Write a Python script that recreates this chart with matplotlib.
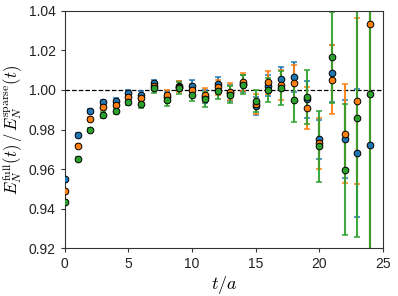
import matplotlib
matplotlib.use("Agg")
import matplotlib.pyplot as plt
import numpy as np

plt.rcParams["font.family"] = ["Liberation Sans", "DejaVu Sans"]
plt.rcParams["mathtext.fontset"] = "cm"

t = np.arange(25)

blue = [0.9549, 0.9772, 0.9894, 0.9939, 0.9946, 0.9983, 0.9976, 1.0033, 0.9963, 1.0020,
        1.0020, 0.9967, 1.0030, 0.9985, 1.0032, 0.9920, 1.0022, 1.0058, 1.0067, 0.9953,
        0.9750, 1.0085, 0.9752, 0.9680, 0.9720]
orange = [0.9490, 0.9718, 0.9853, 0.9912, 0.9926, 0.9965, 0.9958, 1.0020, 0.9975, 1.0017,
          1.0000, 0.9975, 1.0013, 0.9991, 1.0040, 0.9928, 1.0038, 1.0025, 1.0036, 0.9911,
          0.9730, 1.0051, 0.9779, 0.9944, 1.0334]
green = [0.9434, 0.9652, 0.9797, 0.9873, 0.9894, 0.9939, 0.9929, 1.0008, 0.9949, 1.0009,
         0.9977, 0.9953, 0.9995, 0.9977, 1.0027, 0.9943, 1.0000, 1.0010, 0.9950, 0.9963,
         0.9716, 1.0166, 0.9597, 0.9857, 0.9980]

blue_err = [0.0006, 0.0008, 0.0010, 0.0012, 0.0013, 0.0015, 0.0017, 0.0020, 0.0025, 0.0027,
            0.0030, 0.0033, 0.0036, 0.0040, 0.0042, 0.0045, 0.0052, 0.0060, 0.0075, 0.0094,
            0.0100, 0.0145, 0.0195, 0.0325, 0.0900]
orange_err = [0.0006, 0.0009, 0.0011, 0.0013, 0.0014, 0.0016, 0.0018, 0.0022, 0.0027, 0.0029,
              0.0032, 0.0035, 0.0038, 0.0042, 0.0045, 0.0050, 0.0058, 0.0075, 0.0089, 0.0106,
              0.0130, 0.0175, 0.0250, 0.0420, 0.1200]
green_err = [0.0007, 0.0010, 0.0012, 0.0014, 0.0015, 0.0017, 0.0019, 0.0024, 0.0029, 0.0031,
             0.0034, 0.0037, 0.0040, 0.0044, 0.0048, 0.0055, 0.0062, 0.0088, 0.0110, 0.0137,
             0.0180, 0.0230, 0.0330, 0.0600, 0.1000]

fig = plt.figure(figsize=(3.98, 2.96), dpi=100)
ax = fig.add_axes([0.163, 0.162, 0.799, 0.801])

series = [(blue, blue_err, "tab:blue"), (orange, orange_err, "tab:orange"),
          (green, green_err, "tab:green")]
for y, e, c in series:
    ax.errorbar(t, y, yerr=e, fmt="none", ecolor=c, elinewidth=1.5, capsize=2.2,
                capthick=1.2, alpha=0.9, zorder=2)
for y, e, c in series:
    ax.plot(t, y, "o", color=c, markersize=4.8, markeredgecolor="k",
            markeredgewidth=0.7, zorder=3)

ax.axhline(1.0, color="k", ls="--", lw=0.9, zorder=1)
ax.set_xlim(0, 25)
ax.set_ylim(0.92, 1.04)
ax.set_xticks([0, 5, 10, 15, 20, 25])
ax.set_yticks([0.92, 0.94, 0.96, 0.98, 1.00, 1.02, 1.04])
ax.tick_params(labelsize=10, length=3, colors="#333333", labelcolor="#222222")
for s in ax.spines.values():
    s.set_color("#333333")
ax.set_xlabel(r"$t/a$", fontsize=13, labelpad=2)
ax.set_ylabel(r"$E_N^{\rm full}(t)\,/\,E_N^{\rm sparse}(t)$", fontsize=12, labelpad=3)

fig.savefig("out.png", dpi=100)
